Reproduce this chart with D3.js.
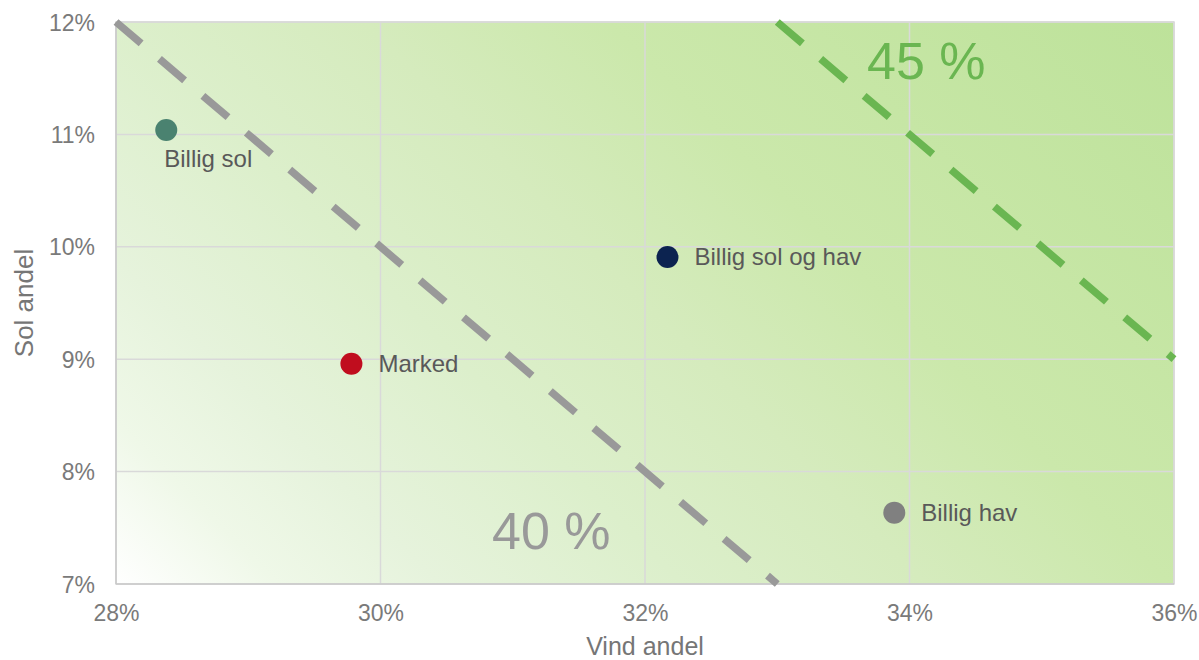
<!DOCTYPE html>
<html>
<head>
<meta charset="utf-8">
<script src="https://cdn.jsdelivr.net/npm/d3@7"></script>
<style>
  html, body { margin: 0; padding: 0; background: #ffffff; }
  svg { display: block; font-family: "Liberation Sans", Arial, sans-serif; }
</style>
</head>
<body>
<svg id="chart" width="1199" height="660"></svg>
<script>
// ---- data ----
const scenarios = ["Billig sol", "Marked", "Billig sol og hav", "Billig hav"];
const windShare = [28.38, 29.78, 32.17, 33.885];
const solarShare = [11.04, 8.96, 9.91, 7.635];
const pointColors = ["#4a8270", "#c00d1e", "#0c2350", "#808080"];
const xTicks = [28, 30, 32, 34, 36];
const yTicks = [7, 8, 9, 10, 11, 12];
const totalLines = [40, 45];
const totalLineColors = ["#999999", "#6ab651"];
const totalLabels = ["40 %", "45 %"];

// ---- layout ----
const svg = d3.select("#chart");
const margin = { left: 116, top: 22, right: 1174, bottom: 584 };
const x = d3.scaleLinear().domain([28, 36]).range([margin.left, margin.right]);
const y = d3.scaleLinear().domain([7, 12]).range([margin.bottom, margin.top]);

// background gradient
const defs = svg.append("defs");
const grad = defs.append("linearGradient")
  .attr("id", "bg").attr("gradientUnits", "userSpaceOnUse")
  .attr("x1", x(28)).attr("y1", y(7))
  .attr("x2", x(28) + 810).attr("y2", y(7) - 810);
[[0, "#ffffff"], [0.1, "#eff8e8"], [0.2, "#e6f3dc"], [0.35, "#dcefcb"],
 [0.5, "#d5ebbd"], [0.65, "#cbe8ab"], [1, "#bde29a"]].forEach(s =>
  grad.append("stop").attr("offset", s[0]).attr("stop-color", s[1]));

svg.append("rect")
  .attr("x", x(28)).attr("y", y(12))
  .attr("width", x(36) - x(28)).attr("height", y(7) - y(12))
  .attr("fill", "url(#bg)")
  .attr("stroke", "#d9d9d9").attr("stroke-width", 1.5);

// gridlines
svg.append("g").selectAll("line").data(xTicks.slice(1)).join("line")
  .attr("x1", d => x(d)).attr("x2", d => x(d))
  .attr("y1", y(12)).attr("y2", y(7))
  .attr("stroke", "#d9d9d9").attr("stroke-width", 1.5);
svg.append("g").selectAll("line").data(yTicks.slice(1)).join("line")
  .attr("x1", x(28)).attr("x2", x(36))
  .attr("y1", d => y(d)).attr("y2", d => y(d))
  .attr("stroke", "#d9d9d9").attr("stroke-width", 1.5);

// axes lines
svg.append("line").attr("x1", x(28)).attr("x2", x(28)).attr("y1", y(12)).attr("y2", y(7))
  .attr("stroke", "#c8c8c8").attr("stroke-width", 1.5);
svg.append("line").attr("x1", x(28)).attr("x2", x(36)).attr("y1", y(7)).attr("y2", y(7))
  .attr("stroke", "#c8c8c8").attr("stroke-width", 1.5);

// axis tick labels via d3 axes
const xAxis = d3.axisBottom(x).tickValues(xTicks).tickFormat(d => d + "%").tickSize(0).tickPadding(0);
const gx = svg.append("g").attr("transform", `translate(0,${y(7)})`).call(xAxis);
gx.select(".domain").remove();
gx.selectAll("text").attr("dy", null).attr("y", 37)
  .attr("font-size", 23).attr("fill", "#7a7a7a").attr("font-family", "Liberation Sans, Arial, sans-serif");

const yAxis = d3.axisLeft(y).tickValues(yTicks).tickFormat(d => d + "%").tickSize(0).tickPadding(0);
const gy = svg.append("g").attr("transform", `translate(${x(28)},0)`).call(yAxis);
gy.select(".domain").remove();
gy.selectAll("text").attr("x", -21).attr("dy", "0.35em")
  .attr("font-size", 23).attr("fill", "#7a7a7a").attr("font-family", "Liberation Sans, Arial, sans-serif");

// axis titles
svg.append("text").attr("x", (x(28) + x(36)) / 2).attr("y", 655)
  .attr("text-anchor", "middle").attr("font-size", 25).attr("fill", "#767676")
  .text("Vind andel");
svg.append("text").attr("transform", `translate(33,${(y(7) + y(12)) / 2}) rotate(-90)`)
  .attr("text-anchor", "middle").attr("font-size", 26).attr("fill", "#767676")
  .text("Sol andel");

// total share reference lines (wind + sol = T), clipped to domain
totalLines.forEach((T, i) => {
  const w0 = Math.max(28, T - 12), w1 = Math.min(36, T - 7);
  svg.append("line")
    .attr("x1", x(w0)).attr("y1", y(T - w0))
    .attr("x2", x(w1)).attr("y2", y(T - w1))
    .attr("stroke", totalLineColors[i]).attr("stroke-width", 7.5)
    .attr("stroke-dasharray", "33,24");
});

// labels for reference lines
svg.append("text").attr("x", 492).attr("y", 549)
  .attr("font-size", 52).attr("fill", totalLineColors[0]).text(totalLabels[0]);
svg.append("text").attr("x", 867).attr("y", 79)
  .attr("font-size", 52).attr("fill", totalLineColors[1]).text(totalLabels[1]);

// points
const pts = scenarios.map((s, i) => ({ name: s, w: windShare[i], s: solarShare[i], c: pointColors[i] }));
svg.append("g").selectAll("circle").data(pts).join("circle")
  .attr("cx", d => x(d.w)).attr("cy", d => y(d.s)).attr("r", 11)
  .attr("fill", d => d.c);

// point labels: first below, others to the right
svg.append("g").selectAll("text").data(pts).join("text")
  .attr("x", (d, i) => i === 0 ? x(d.w) - 2 : x(d.w) + 27)
  .attr("y", (d, i) => i === 0 ? y(d.s) + 37 : y(d.s) + 8)
  .attr("font-size", 24).attr("fill", "#595959")
  .text(d => d.name);
</script>
</body>
</html>
